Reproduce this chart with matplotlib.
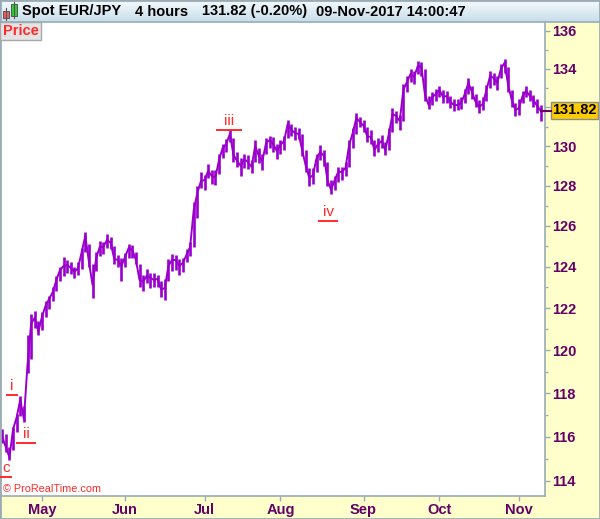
import numpy as np
import pandas as pd
import matplotlib
matplotlib.use('Agg')
import matplotlib.pyplot as plt
from matplotlib.patches import Rectangle
from matplotlib.lines import Line2D
from matplotlib.ticker import FixedLocator, NullFormatter

W, H = 600, 519

# daily bars, Spot EUR/JPY
start_date = '2017-04-14'
end_date = '2017-11-09'
closes = [
    116.00, 115.52, 115.07, 116.33, 116.88, 117.70, 116.79, 119.32, 121.25, 121.54,
    120.87, 121.58, 122.11, 122.44, 122.77, 123.35, 123.84, 124.03, 124.08, 123.93,
    123.74, 123.93, 124.71, 125.50, 124.22, 123.11, 124.42, 124.96, 124.96, 125.30,
    125.16, 124.37, 124.32, 124.03, 124.47, 124.91, 124.81, 124.32, 123.35, 123.26,
    123.55, 123.45, 123.35, 123.40, 122.87, 122.97, 124.03, 124.32, 124.32, 124.03,
    124.18, 124.57, 124.96, 126.78, 127.63, 128.23, 128.28, 128.74, 128.48, 128.43,
    129.29, 129.90, 130.10, 130.62, 129.55, 129.24, 128.99, 129.34, 129.19, 128.94,
    130.00, 129.50, 129.24, 130.15, 130.31, 130.10, 129.75, 130.05, 130.26, 131.13,
    130.82, 130.67, 130.62, 129.80, 128.99, 128.38, 128.53, 129.39, 129.70, 129.50,
    128.28, 127.78, 128.28, 128.69, 128.69, 128.89, 130.05, 130.67, 131.44, 131.23,
    131.03, 130.51, 130.46, 129.80, 130.10, 130.26, 129.80, 130.62, 131.64, 131.54,
    131.28, 132.89, 133.31, 133.73, 133.57, 134.15, 134.10, 132.63, 132.11, 132.52,
    132.68, 132.89, 132.52, 132.58, 132.27, 132.11, 132.11, 132.21, 132.68, 133.26,
    132.78, 132.27, 132.01, 132.16, 132.89, 133.62, 133.52, 133.26, 133.99, 134.31,
    133.15, 132.37, 131.85, 131.95, 132.58, 132.84, 132.58, 132.37, 132.06, 131.82,
]
highs = [
    116.35, 116.10, 115.55, 116.45, 117.05, 117.85, 117.40, 120.70, 121.70, 121.85,
    121.40, 121.80, 122.35, 122.60, 123.00, 123.55, 124.00, 124.45, 124.30, 124.20,
    124.00, 124.20, 124.90, 125.70, 125.10, 124.10, 124.70, 125.25, 125.20, 125.60,
    125.45, 125.00, 124.55, 124.40, 124.65, 125.10, 125.05, 124.70, 124.10, 123.60,
    123.90, 123.70, 123.70, 123.60, 123.30, 123.40, 124.35, 124.60, 124.55, 124.35,
    124.40, 124.85, 125.20, 127.20, 128.00, 128.70, 128.55, 129.10, 128.80, 128.80,
    129.60, 130.10, 130.35, 130.85, 130.40, 129.70, 129.40, 129.60, 129.55, 129.30,
    130.30, 129.90, 129.60, 130.40, 130.50, 130.45, 130.10, 130.30, 130.50, 131.35,
    131.15, 130.95, 130.90, 130.60, 129.80, 128.90, 128.90, 129.60, 130.05, 129.80,
    129.20, 128.30, 128.50, 128.95, 128.95, 129.20, 130.30, 130.90, 131.70, 131.50,
    131.35, 130.95, 130.80, 130.30, 130.40, 130.55, 130.20, 130.90, 131.95, 131.80,
    131.60, 133.20, 133.60, 134.00, 133.90, 134.40, 134.35, 134.00, 132.60, 132.80,
    132.95, 133.10, 132.90, 132.85, 132.60, 132.40, 132.40, 132.50, 132.95, 133.50,
    133.10, 132.70, 132.35, 132.50, 133.15, 133.90, 133.80, 133.60, 134.25, 134.50,
    134.10, 132.90, 132.20, 132.40, 132.85, 133.10, 132.90, 132.65, 132.40, 132.10,
]
lows = [
    115.70, 115.30, 114.95, 115.40, 116.20, 116.95, 116.65, 118.95, 119.60, 121.05,
    120.70, 120.95, 121.55, 121.95, 122.35, 122.80, 123.30, 123.55, 123.70, 123.65,
    123.45, 123.60, 123.90, 124.70, 124.00, 122.50, 123.80, 124.50, 124.60, 124.90,
    124.85, 124.10, 124.00, 123.30, 124.00, 124.40, 124.40, 124.10, 123.00, 122.80,
    123.20, 122.95, 123.00, 123.00, 122.55, 122.40, 123.30, 123.80, 123.85, 123.60,
    123.75, 124.20, 124.50, 124.95, 126.40, 127.90, 127.80, 128.40, 128.10, 128.05,
    128.60, 129.40, 129.70, 130.20, 129.20, 128.95, 128.50, 128.90, 128.85, 128.65,
    129.20, 129.15, 128.80, 129.60, 129.90, 129.70, 129.35, 129.60, 129.80, 130.40,
    130.50, 130.30, 130.35, 129.50, 128.70, 128.00, 128.10, 128.70, 129.30, 129.00,
    128.00, 127.60, 127.80, 128.20, 128.30, 128.50, 128.95, 129.90, 130.60, 130.95,
    130.70, 130.20, 130.10, 129.50, 129.70, 129.90, 129.55, 129.80, 130.70, 131.20,
    130.80, 131.30, 132.80, 133.30, 133.20, 133.70, 133.60, 132.30, 131.90, 132.10,
    132.30, 132.50, 132.20, 132.20, 131.95, 131.80, 131.85, 131.90, 132.20, 132.70,
    132.40, 132.00, 131.70, 131.85, 132.30, 133.00, 133.15, 132.90, 133.50, 133.80,
    132.80, 132.00, 131.55, 131.60, 132.20, 132.50, 132.30, 132.00, 131.70, 131.30,
]
price_ticks = list(range(114, 137, 2))
minor_price_ticks = list(range(115, 136, 2))
last_price = 131.82
header_parts = ['Spot EUR/JPY', '4 hours', '131.82 (-0.20%)', '09-Nov-2017 14:00:47']
header_x = [22, 135, 202, 316]
wave_labels = ['c', 'i', 'ii', 'iii', 'iv']
wave_pos = [(6, 468), (12, 386), (26, 434), (229, 121), (328, 212)]

PURPLE = '#9900CC'
AXIS_TXT = '#660066'
GRID = '#9AABB5'
YELLOW = '#FFFFCC'
RED = '#FF2A2A'


def fx(x):
    return x / W


def fy(y):
    return 1 - y / H


dates = pd.bdate_range(start_date, end_date)
idx = np.arange(len(closes))
month_idx = [i for i in range(1, len(dates)) if dates[i].month != dates[i - 1].month]
month_lbl = [dates[i].strftime('%b') for i in month_idx]

plt.rcParams['font.family'] = ['Liberation Sans', 'DejaVu Sans']

fig = plt.figure(figsize=(W / 100, H / 100), dpi=100)
fig.patch.set_facecolor(YELLOW)

# main price panel
ax = fig.add_axes([0, fy(496), fx(545), (496 - 22) / H])
ax.set_facecolor('white')
ax.vlines(idx, lows, highs, color=PURPLE, lw=1.9)
ax.plot(idx, closes, color=PURPLE, lw=1.4)
ax.set_yscale('log')
ax.set_ylim(113.33, 136.48)
ax.set_xlim(-0.61, 150.2)

ax.yaxis.tick_right()
ax.yaxis.set_major_locator(FixedLocator(price_ticks))
ax.yaxis.set_minor_locator(FixedLocator(minor_price_ticks))
ax.yaxis.set_minor_formatter(NullFormatter())
# 132 sits under the last-price tag
ax.set_yticklabels(['' if p == 132 else str(p) for p in price_ticks])
ax.set_xticks(month_idx)
ax.set_xticklabels(month_lbl)
ax.tick_params(axis='y', which='major', direction='out', length=3.5, width=1,
               color=GRID, labelcolor=AXIS_TXT, labelsize=10.5, pad=1.5)
ax.tick_params(axis='y', which='minor', direction='out', length=2.5, width=1, color=GRID)
ax.tick_params(axis='x', direction='out', length=3.5, width=1, color=GRID,
               labelcolor=AXIS_TXT, labelsize=10.5, pad=1.5)
for lab in ax.get_xticklabels() + ax.get_yticklabels():
    lab.set_fontweight('bold')
for side, sp in ax.spines.items():
    sp.set_color(GRID)
    sp.set_linewidth(1.2)
ax.spines['top'].set_visible(False)

# header bar with gradient
hax = fig.add_axes([0, fy(22), 1, 22 / H])
grad = np.linspace(0, 1, 50).reshape(-1, 1)
top_c = np.array([0.96, 0.98, 0.99])
bot_c = np.array([0.78, 0.87, 0.92])
img = top_c + (bot_c - top_c) * grad[:, :, None]
hax.imshow(img, aspect='auto', extent=[0, 1, 0, 1])
hax.set_axis_off()
fig.add_artist(Line2D([0, 1], [fy(22), fy(22)], color=GRID, lw=1.2))

# candle icon
fig.add_artist(Line2D([fx(6), fx(6)], [fy(8), fy(20)], color='#555555', lw=0.8))
fig.patches.append(Rectangle((fx(3), fy(18)), fx(6), 7 / H, facecolor='#F06060',
                             edgecolor='#444444', lw=0.6, transform=fig.transFigure))
fig.add_artist(Line2D([fx(13.5), fx(13.5)], [fy(2), fy(18)], color='#555555', lw=0.8))
fig.patches.append(Rectangle((fx(10.5), fy(16)), fx(6), 12 / H, facecolor='#33CC33',
                             edgecolor='#444444', lw=0.6, transform=fig.transFigure))

for txt, x in zip(header_parts, header_x):
    fig.text(fx(x), fy(11.5), txt, fontsize=10.5, fontweight='bold', color='black',
             ha='left', va='center')

# "Price" tag
fig.patches.append(Rectangle((0, fy(40)), fx(41), 18 / H, facecolor='#E4E4E4',
                             edgecolor='#A8A8A8', lw=1, transform=fig.transFigure))
fig.text(fx(20.5), fy(31), 'Price', fontsize=10.5, fontweight='bold', color=RED,
         ha='center', va='center')

# last price marker
fig.add_artist(Line2D([fx(541), fx(551)], [fy(110.5), fy(110.5)], color=AXIS_TXT, lw=1.5))
fig.patches.append(Rectangle((fx(551), fy(119)), fx(47), 17 / H, facecolor='#FFCC00',
                             edgecolor='#8C8C8C', lw=1, transform=fig.transFigure))
fig.text(fx(574.5), fy(110.5), f'{last_price:.2f}', fontsize=10.5, fontweight='bold',
         color='black', ha='center', va='center')

# wave labels
for lab, (x, y) in zip(wave_labels, wave_pos):
    fig.text(fx(x), fy(y), lab, fontsize=11, color=RED, ha='center', va='center')
    half = 2 + 3.4 * len(lab)
    fig.add_artist(Line2D([fx(x - half), fx(x + half)], [fy(y + 9), fy(y + 9)],
                          color=RED, lw=1.4))

fig.text(fx(3), fy(489), '\u00a9 ProRealTime.com', fontsize=7.8, color=RED,
         ha='left', va='center')

# outer frame
fig.add_artist(Rectangle((0, 0), 1, 1, fill=False, edgecolor=GRID, lw=2,
                         transform=fig.transFigure))

fig.savefig('out.png', dpi=100, facecolor=fig.get_facecolor())
